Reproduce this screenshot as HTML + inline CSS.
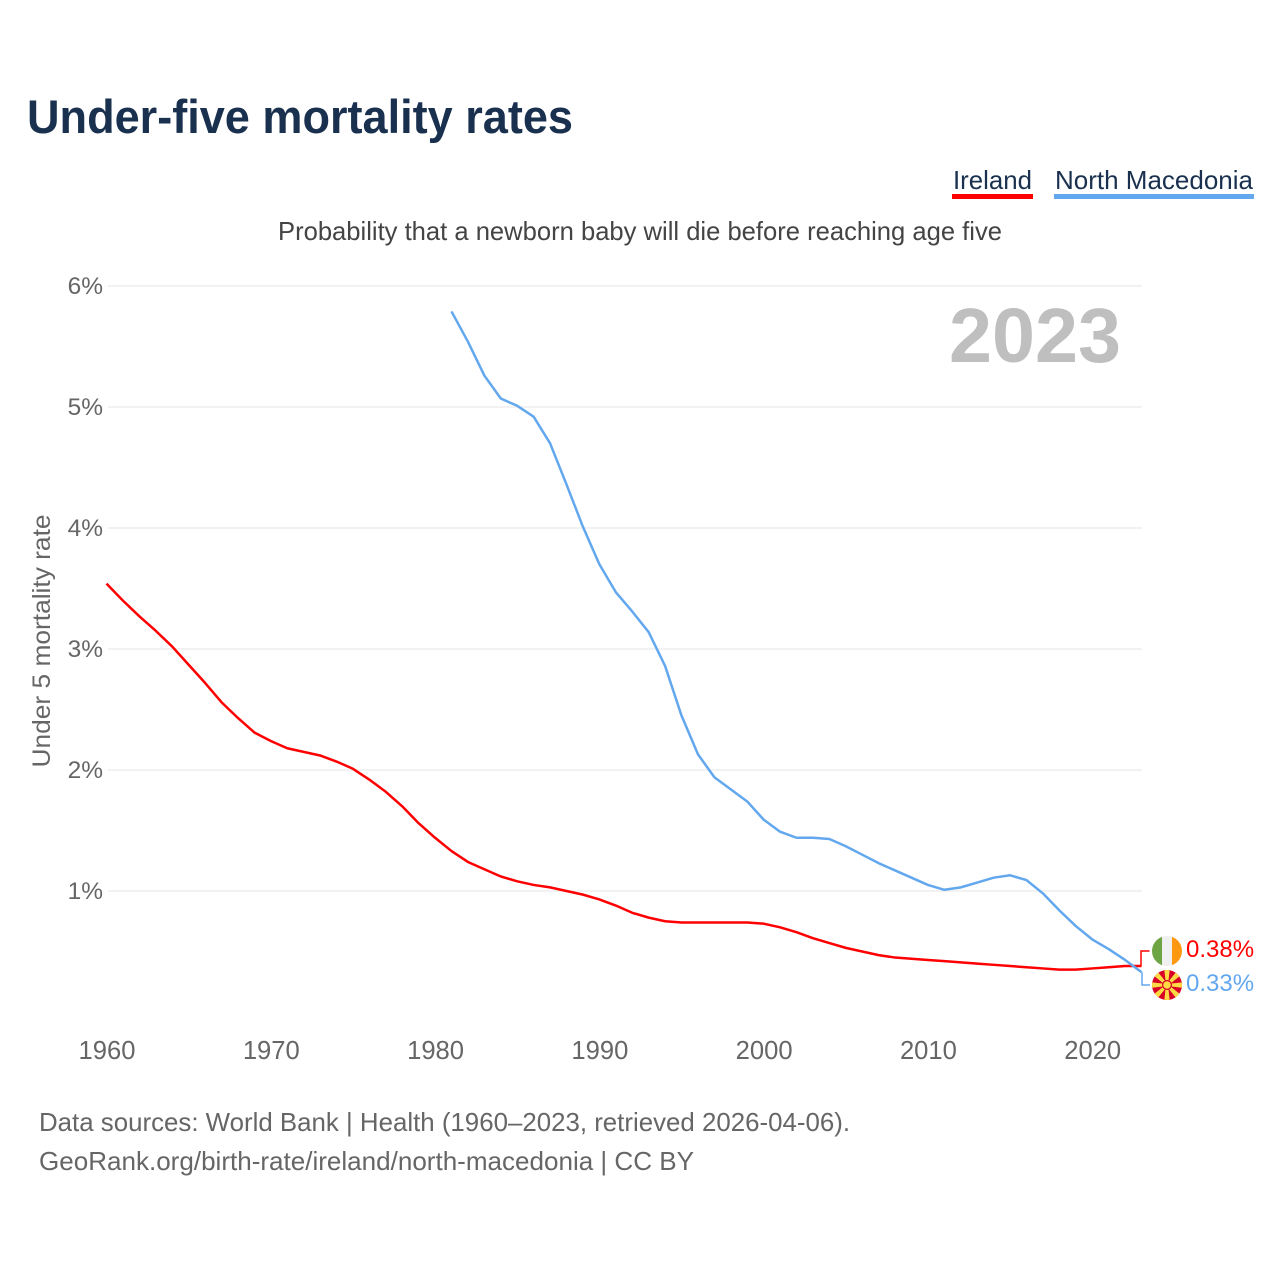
<!DOCTYPE html>
<html lang="en">
<head>
<meta charset="utf-8">
<title>Under-five mortality rates</title>
<style>
html,body{margin:0;padding:0;background:#fff;}
#page{width:1280px;height:1280px;position:relative;overflow:hidden;}
svg{display:block;font-family:"Liberation Sans",sans-serif;}
</style>
</head>
<body>
<div id="page">
<svg id="chart" width="1280" height="1280" viewBox="0 0 1280 1280" xmlns="http://www.w3.org/2000/svg">
  <text x="27" y="133" font-size="47" font-weight="700" fill="#19304f" textLength="546" lengthAdjust="spacingAndGlyphs">Under-five mortality rates</text>

  <text x="953" y="189" font-size="26" fill="#19304f" textLength="79" lengthAdjust="spacingAndGlyphs">Ireland</text>
  <rect x="952" y="194" width="81" height="5" fill="#ff0000"/>
  <text x="1055" y="189" font-size="26" fill="#19304f" textLength="198" lengthAdjust="spacingAndGlyphs">North Macedonia</text>
  <rect x="1054" y="194" width="200" height="5" fill="#63a8ee"/>

  <text x="278" y="240" font-size="26" fill="#444444" textLength="724" lengthAdjust="spacingAndGlyphs">Probability that a newborn baby will die before reaching age five</text>

  <g id="grid"></g>
  <g id="yticks"></g>
  <g id="xticks"></g>

  <text transform="translate(50,641) rotate(-90)" text-anchor="middle" font-size="25" fill="#666666" textLength="253" lengthAdjust="spacingAndGlyphs">Under 5 mortality rate</text>

  <text x="949" y="362" font-size="77" font-weight="700" fill="#bfbfbf" textLength="172" lengthAdjust="spacingAndGlyphs">2023</text>

  <g id="series"></g>

  <polyline id="conn-ie" fill="none" stroke="#ff0000" stroke-width="1.5"/>
  <polyline id="conn-mk" fill="none" stroke="#63a8ee" stroke-width="1.5"/>

  <g>
    <clipPath id="clip-ie"><circle cx="1167" cy="951" r="15"/></clipPath>
    <g clip-path="url(#clip-ie)">
      <rect x="1152" y="936" width="10" height="30" fill="#6da544"/>
      <rect x="1162" y="936" width="10" height="30" fill="#f0f0f0"/>
      <rect x="1172" y="936" width="10" height="30" fill="#ff9811"/>
    </g>
  </g>
  <g>
    <clipPath id="clip-mk"><circle cx="1167" cy="985" r="15"/></clipPath>
    <g clip-path="url(#clip-mk)">
      <rect x="1152" y="970" width="30" height="30" fill="#d80027"/>
      <g transform="translate(1167,985)" fill="#ffda44">
        <polygon points="-1,0 1,0 2.8,-16 -2.8,-16"/>
        <polygon points="-1,0 1,0 2.8,-16 -2.8,-16" transform="rotate(45)"/>
        <polygon points="-1,0 1,0 2.8,-16 -2.8,-16" transform="rotate(90)"/>
        <polygon points="-1,0 1,0 2.8,-16 -2.8,-16" transform="rotate(135)"/>
        <polygon points="-1,0 1,0 2.8,-16 -2.8,-16" transform="rotate(180)"/>
        <polygon points="-1,0 1,0 2.8,-16 -2.8,-16" transform="rotate(225)"/>
        <polygon points="-1,0 1,0 2.8,-16 -2.8,-16" transform="rotate(270)"/>
        <polygon points="-1,0 1,0 2.8,-16 -2.8,-16" transform="rotate(315)"/>
        <circle r="5" fill="#d80027"/>
        <circle r="3.8" fill="#ffda44"/>
      </g>
    </g>
  </g>

  <text id="label-ie" x="1186" y="957" font-size="24" fill="#ff0000"></text>
  <text id="label-mk" x="1186" y="991" font-size="24" fill="#63a8ee"></text>

  <text x="39" y="1131" font-size="26" fill="#666666" textLength="811" lengthAdjust="spacingAndGlyphs">Data sources: World Bank | Health (1960–2023, retrieved 2026-04-06).</text>
  <text x="39" y="1170" font-size="26" fill="#666666" textLength="655" lengthAdjust="spacingAndGlyphs">GeoRank.org/birth-rate/ireland/north-macedonia | CC BY</text>
</svg>
</div>
<script>
const irelandStartYear = 1960;
const irelandValues = [3.54,3.40,3.27,3.15,3.02,2.87,2.72,2.56,2.43,2.31,2.24,2.18,2.15,2.12,2.07,2.01,1.92,1.82,1.70,1.56,1.44,1.33,1.24,1.18,1.12,1.08,1.05,1.03,1.00,0.97,0.93,0.88,0.82,0.78,0.75,0.74,0.74,0.74,0.74,0.74,0.73,0.70,0.66,0.61,0.57,0.53,0.50,0.47,0.45,0.44,0.43,0.42,0.41,0.40,0.39,0.38,0.37,0.36,0.35,0.35,0.36,0.37,0.38,0.38];
const macedoniaStartYear = 1981;
const macedoniaValues = [5.79,5.54,5.26,5.07,5.01,4.92,4.70,4.36,4.01,3.70,3.47,3.31,3.14,2.86,2.45,2.13,1.94,1.84,1.74,1.59,1.49,1.44,1.44,1.43,1.37,1.30,1.23,1.17,1.11,1.05,1.01,1.03,1.07,1.11,1.13,1.09,0.98,0.84,0.71,0.60,0.52,0.43,0.33];
const yTickValues = [1,2,3,4,5,6];
const xTickYears = [1960,1970,1980,1990,2000,2010,2020];

const NS = 'http://www.w3.org/2000/svg';
function xScale(year){ return 106.5 + (year - 1960) * (1141.5 - 106.5) / 63; }
function yScale(v){ return 1012 - v * 121; }
function make(tag, parent){
  const el = document.createElementNS(NS, tag);
  parent.appendChild(el);
  return el;
}
function linePoints(values, startYear){
  return values.map((v, i) => xScale(startYear + i).toFixed(2) + ',' + yScale(v).toFixed(2)).join(' ');
}

const grid = document.getElementById('grid');
const yticks = document.getElementById('yticks');
yTickValues.forEach(v => {
  const ln = make('line', grid);
  
  
  ln.setAttribute('x1', 108);
  ln.setAttribute('x2', 1142);
  ln.setAttribute('y1', yScale(v));
  ln.setAttribute('y2', yScale(v));
  ln.setAttribute('stroke', '#eeeeee');
  ln.setAttribute('stroke-width', 1.5);
  const t = make('text', yticks);
  
  
  t.setAttribute('x', 103);
  t.setAttribute('y', yScale(v) + 8);
  t.setAttribute('text-anchor', 'end');
  t.setAttribute('font-size', 24.5);
  t.setAttribute('fill', '#666666');
  t.textContent = v + '%';
});

const xticks = document.getElementById('xticks');
xTickYears.forEach(y => {
  const t = make('text', xticks);
  
  
  t.setAttribute('x', xScale(y) + 0.5);
  t.setAttribute('y', 1059);
  t.setAttribute('text-anchor', 'middle');
  t.setAttribute('font-size', 25.6);
  t.setAttribute('fill', '#666666');
  t.textContent = y;
});

const series = document.getElementById('series');
const lineIe = make('polyline', series);


lineIe.setAttribute('points', linePoints(irelandValues, irelandStartYear));
lineIe.setAttribute('fill', 'none');
lineIe.setAttribute('stroke', '#ff0000');
lineIe.setAttribute('stroke-width', 2.5);
lineIe.setAttribute('stroke-linejoin', 'round');

const lineMk = make('polyline', series);


lineMk.setAttribute('points', linePoints(macedoniaValues, macedoniaStartYear));
lineMk.setAttribute('fill', 'none');
lineMk.setAttribute('stroke', '#63a8ee');
lineMk.setAttribute('stroke-width', 2.5);
lineMk.setAttribute('stroke-linejoin', 'round');

const lastIe = irelandValues[irelandValues.length - 1];
const lastMk = macedoniaValues[macedoniaValues.length - 1];
document.getElementById('label-ie').textContent = lastIe.toFixed(2) + '%';
document.getElementById('label-mk').textContent = lastMk.toFixed(2) + '%';
document.getElementById('conn-ie').setAttribute('points', '1141,' + yScale(lastIe) + ' 1141,951 1149.5,951');
document.getElementById('conn-mk').setAttribute('points', '1142,' + yScale(lastMk) + ' 1142,985 1150,985');
</script>
</body>
</html>
